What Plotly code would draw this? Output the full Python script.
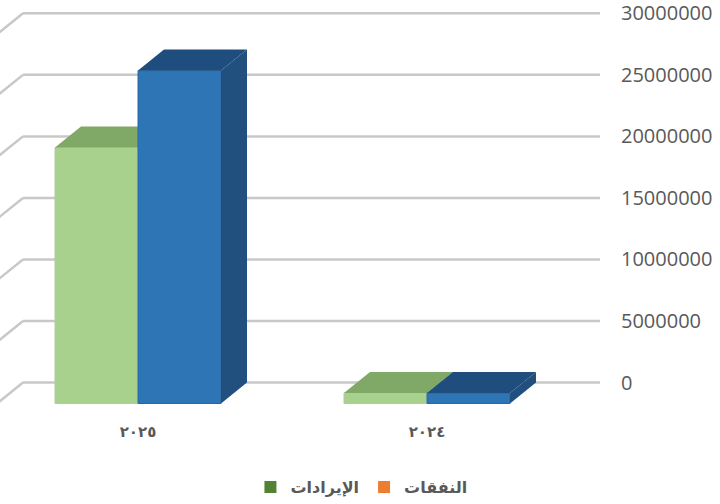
import plotly.graph_objects as go

# ---------------- data ----------------
categories = ["٢٠٢٥", "٢٠٢٤"]            # display order, left to right
revenues = [20800000, 850000]            # الإيرادات (green bars)
expenses = [27050000, 850000]            # النفقات (blue bars)
series_names = ["الإيرادات", "النفقات"]
legend_colors = ["#548235", "#ED7D31"]
tick_values = [0, 5000000, 10000000, 15000000, 20000000, 25000000, 30000000]
tick_labels = ["0", "5000000", "10000000", "15000000", "20000000", "25000000", "30000000"]

# ---------------- geometry / style ----------------
W, H = 720, 504
FLOOR_PX = 382.5                 # back-wall zero line (pixels from top)
PX_PER_UNIT = 61.53 / 5000000    # pixels per value unit
CAT0_PX, PX_PER_CAT = 138, 289   # front-plane centre of first category
BAR_W = 83 / PX_PER_CAT
DX = 26 / PX_PER_CAT             # depth offset (x, data units)
DY = 21 / PX_PER_UNIT            # depth offset (y, data units)
WALL_L = (23 - CAT0_PX) / PX_PER_CAT
WALL_R = (600 - CAT0_PX) / PX_PER_CAT

X_RANGE = [(0 - CAT0_PX) / PX_PER_CAT, (W - CAT0_PX) / PX_PER_CAT]
Y_RANGE = [(FLOOR_PX - H) / PX_PER_UNIT, FLOOR_PX / PX_PER_UNIT]

GRID = "#C8C8C8"
TXT = "#595959"

fig = go.Figure()

# gridlines on back wall + side wall (computed from tick values)
for t in tick_values:
    fig.add_shape(type="line", xref="x", yref="y", x0=WALL_L - DX, y0=t - DY,
                  x1=WALL_L, y1=t, line=dict(color=GRID, width=2.5), layer="below")
    fig.add_shape(type="line", xref="x", yref="y", x0=WALL_L, y0=t,
                  x1=WALL_R, y1=t, line=dict(color=GRID, width=2.5), layer="below")


def add_series(values, offset, front, edge, top, side, name, xa, ya):
    xs = [i + offset for i in range(len(values))]
    fig.add_trace(go.Bar(
        x=xs, y=values, base=[-DY] * len(values), width=[BAR_W] * len(values),
        offset=0, marker=dict(color=front, line=dict(width=1, color=edge)), name=name,
        showlegend=False, xaxis=xa, yaxis=ya))
    for xl, v in zip(xs, values):
        xr = xl + BAR_W
        # top face
        fig.add_trace(go.Scatter(
            x=[xl, xr, xr + DX, xl + DX, xl], y=[v - DY, v - DY, v, v, v - DY],
            fill="toself", fillcolor=top, mode="lines", line=dict(width=0, color=top),
            showlegend=False, hoverinfo="skip", xaxis=xa, yaxis=ya))
        # right side face
        fig.add_trace(go.Scatter(
            x=[xr, xr, xr + DX, xr + DX, xr], y=[-DY, v - DY, v, 0, -DY],
            fill="toself", fillcolor=side, mode="lines", line=dict(width=0, color=side),
            showlegend=False, hoverinfo="skip", xaxis=xa, yaxis=ya))


add_series(revenues, -BAR_W, "#A9D18E", "#B5C9A8", "#80A866", "#7A9F60",
           series_names[0], "x", "y")
add_series(expenses, 0.0, "#2E75B6", "#2A68A3", "#1F4E7E", "#21507F",
           series_names[1], "x2", "y2")

# legend entries (as in the original, the expense key is orange)
for nm, col in zip(series_names, legend_colors):
    fig.add_trace(go.Scatter(x=[None], y=[None], name=nm, mode="markers",
                             marker=dict(symbol="square", size=12, color=col),
                             showlegend=True, xaxis="x", yaxis="y"))

fig.update_layout(
    width=W, height=H, autosize=False,
    margin=dict(l=0, r=0, t=0, b=0, pad=0, autoexpand=False),
    paper_bgcolor="white", plot_bgcolor="white",
    barmode="overlay", showlegend=True,
    xaxis=dict(domain=[0, 1], range=X_RANGE, anchor="free", position=(H - 403.5) / H,
               tickmode="array", tickvals=list(range(len(categories))), ticktext=categories,
               ticks="outside", ticklen=14, tickcolor="rgba(0,0,0,0)",
               tickfont=dict(family="DejaVu Sans", size=15, color=TXT, weight="bold"),
               showgrid=False, zeroline=False, showline=False, fixedrange=True,
               ticklabeloverflow="allow"),
    yaxis=dict(domain=[0, 1], range=Y_RANGE, anchor="free", position=600 / W, side="right",
               tickmode="array", tickvals=tick_values, ticktext=tick_labels,
               ticks="outside", ticklen=16, tickcolor="rgba(0,0,0,0)",
               tickfont=dict(family="Open Sans", size=20, color=TXT),
               showgrid=False, zeroline=False, showline=False, fixedrange=True,
               ticklabeloverflow="allow"),
    xaxis2=dict(overlaying="x", range=X_RANGE, visible=False, fixedrange=True),
    yaxis2=dict(overlaying="y", range=Y_RANGE, visible=False, fixedrange=True),
    legend=dict(orientation="h", x=0.502, xanchor="center", y=(H - 487) / H, yanchor="middle",
                font=dict(family="DejaVu Sans", size=16, color=TXT, weight="bold"),
                bgcolor="rgba(0,0,0,0)", itemclick=False, itemdoubleclick=False,
                itemwidth=30),
)

fig.write_html("out.html", config={"displayModeBar": False, "staticPlot": True},
               post_script="document.body.style.margin='0';document.body.style.overflow='hidden';")
